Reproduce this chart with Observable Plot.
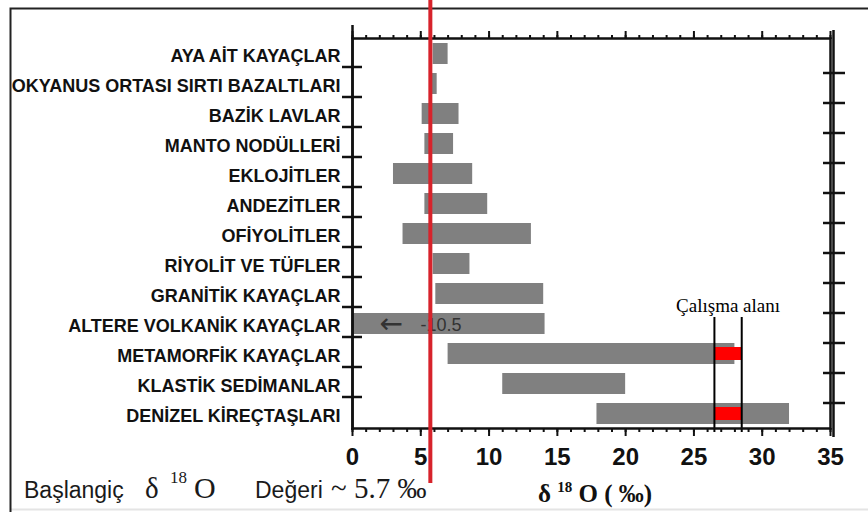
<!DOCTYPE html>
<html>
<head>
<meta charset="utf-8">
<script src="https://cdn.jsdelivr.net/npm/d3@7"></script>
<script src="https://cdn.jsdelivr.net/npm/@observablehq/plot@0.6"></script>
<style>
  body { margin: 0; background: #fff; }
  #chart svg { display: block; }
</style>
</head>
<body>
<div id="chart"></div>
<script>
// ---- data ----
const categories = [
  "AYA AİT KAYAÇLAR",
  "OKYANUS ORTASI SIRTI BAZALTLARI",
  "BAZİK LAVLAR",
  "MANTO NODÜLLERİ",
  "EKLOJİTLER",
  "ANDEZİTLER",
  "OFİYOLİTLER",
  "RİYOLİT VE TÜFLER",
  "GRANİTİK KAYAÇLAR",
  "ALTERE VOLKANİK KAYAÇLAR",
  "METAMORFİK KAYAÇLAR",
  "KLASTİK SEDİMANLAR",
  "DENİZEL KİREÇTAŞLARI"
];
const lowValues  = [5.9, 5.8, 5.1, 5.3, 3.0, 5.3, 3.7, 5.9, 6.1, -10.5, 7.0, 11.0, 17.9];
const highValues = [7.0, 6.2, 7.8, 7.4, 8.8, 9.9, 13.1, 8.6, 14.0, 14.1, 28.0, 20.0, 32.0];
const studyCategories = ["METAMORFİK KAYAÇLAR", "DENİZEL KİREÇTAŞLARI"];
const studyRange = [26.5, 28.5];
const studyLabel = "Çalışma alanı";
const initialValue = [5.7];
const alteredCategory = "ALTERE VOLKANİK KAYAÇLAR";
const alteredNote = "-10.5";
const majorTicks = [0, 5, 10, 15, 20, 25, 30, 35];
const minorTicks = [0,1,2,3,4,5,6,7,8,9,10,11,12,13,14,15,16,17,18,19,20,21,22,23,24,25,26,27,28,29,30,31,32,33,34,35];

// ---- tables built from the arrays ----
const rows = categories.map((c, i) => ({category: c, low: lowValues[i], high: highValues[i]}));
const study = studyCategories.map(c => ({category: c, low: studyRange[0], high: studyRange[1]}));
const boundaryCats = categories.slice(0, -1);

const INK = "#111";
const serif = "'Liberation Serif', 'Times New Roman', serif";
const sans = "'Liberation Sans', Arial, sans-serif";

const chart = Plot.plot({
  width: 868,
  height: 512,
  marginLeft: 352,
  marginRight: 38,
  marginTop: 38,
  marginBottom: 84,
  style: {fontFamily: sans, background: "transparent", color: INK},
  x: {domain: [0, 35], axis: null},
  y: {domain: categories, paddingInner: 0.3, paddingOuter: 0.15, axis: null},
  marks: [
    Plot.barX(rows, {y: "category", x1: "low", x2: "high", fill: "#808080", clip: true}),
    Plot.barX(study, {y: "category", x1: "low", x2: "high", fill: "#ff0000", insetTop: 4, insetBottom: 4}),
    Plot.ruleX(studyRange, {stroke: "#000", strokeWidth: 2, insetTop: 279, insetBottom: -4}),
    Plot.text([{x: (studyRange[0] + studyRange[1]) / 2, y: alteredCategory, t: studyLabel}],
      {x: "x", y: "y", text: "t", dy: -18, fontSize: 19, fontFamily: serif, fill: "#000"}),
    Plot.text([{x: 0, y: alteredCategory, t: "←"}],
      {x: "x", y: "y", text: "t", textAnchor: "start", dx: 27, fontSize: 28, fontFamily: "'DejaVu Sans', sans-serif", fill: "#333"}),
    Plot.text([{x: 0, y: alteredCategory, t: alteredNote}],
      {x: "x", y: "y", text: "t", textAnchor: "start", dx: 68, dy: 1, fontSize: 18, fill: "#333"}),
    // frame and axis lines
    Plot.frame({stroke: INK, strokeWidth: 2.5}),
    Plot.ruleX([0], {stroke: INK, strokeWidth: 2.5, insetTop: -13, insetBottom: -2}),
    Plot.ruleX([35], {stroke: INK, strokeWidth: 2.5, dx: 3, insetTop: -8, insetBottom: -9}),
    // x ticks top and bottom (tick-only axes: no text fill)
    Plot.axisX({anchor: "top", ticks: minorTicks, tickSize: 4, strokeWidth: 2, stroke: INK, fill: "none", label: null}),
    Plot.axisX({anchor: "top", ticks: majorTicks, tickSize: 8, strokeWidth: 2, stroke: INK, fill: "none", label: null}),
    Plot.axisX({anchor: "bottom", ticks: minorTicks, tickSize: 4, strokeWidth: 2, stroke: INK, fill: "none", label: null}),
    Plot.axisX({anchor: "bottom", ticks: majorTicks, tickSize: 8, strokeWidth: 2, stroke: INK, fill: "none", label: null}),
    Plot.axisX({anchor: "bottom", ticks: majorTicks, tickSize: 0, tickPadding: 19, fontSize: 24, fontWeight: "bold", fill: INK, label: null}),
    // y labels and boundary ticks
    Plot.axisY({anchor: "left", tickSize: 0, tickPadding: 12, fontSize: 18, fontWeight: "bold", dy: 2, fill: INK, label: null}),
    Plot.axisY({anchor: "left", ticks: boundaryCats, tickSize: 20, dx: 10, dy: 13, strokeWidth: 2.5, stroke: INK, fill: "none", label: null}),
    Plot.axisY({anchor: "right", ticks: boundaryCats, tickSize: 22, dx: -8, dy: 19, strokeWidth: 2.5, stroke: INK, fill: "none", label: null}),
    // initial δ18O value
    Plot.ruleX(initialValue, {stroke: "#d7232b", strokeWidth: 4, insetTop: -38, insetBottom: -55})
  ]
});

document.getElementById("chart").appendChild(chart);

// ---- annotations: border, axis title, bottom caption ----
const svg = d3.select(chart);
svg.insert("path", ":first-child")
  .attr("d", "M10.5,512V8.5H868")
  .attr("fill", "none").attr("stroke", "#222").attr("stroke-width", 2);
svg.insert("path", ":first-child")
  .attr("d", "M11,509.5H868")
  .attr("fill", "none").attr("stroke", "#e4e4e4").attr("stroke-width", 2);

function label(x, y, family, size, txt, weight) {
  return svg.append("text").attr("x", x).attr("y", y)
    .attr("text-anchor", "start")
    .attr("font-family", family).attr("font-size", size)
    .attr("font-weight", weight || "normal")
    .attr("fill", "#1a1a1a").text(txt);
}

// axis title δ18O (‰)
const title = svg.append("text").attr("x", 538).attr("y", 502).attr("text-anchor", "start")
  .attr("font-family", serif).attr("font-weight", "bold").attr("font-size", 25).attr("fill", INK);
title.append("tspan").text("δ ");
title.append("tspan").attr("font-size", 15).attr("dy", -10).text("18");
title.append("tspan").attr("dy", 10).text(" O ( ‰)");

// bottom-left caption
label(24, 498, sans, 23, "Başlangiç");
label(145, 498, serif, 29, "δ");
label(170, 483, serif, 17, "18");
label(194, 498, serif, 30, "O");
label(255, 498, sans, 23, "Değeri");
label(331, 498, serif, 29, "~ 5.7 ‰");
</script>
</body>
</html>
